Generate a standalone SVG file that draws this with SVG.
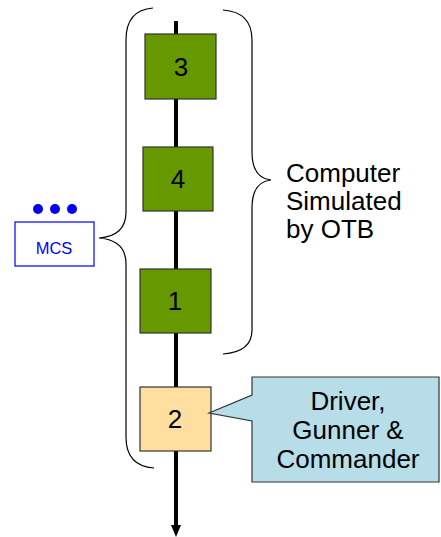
<svg xmlns="http://www.w3.org/2000/svg" width="441" height="537" viewBox="0 0 441 537">
<style>
.box{stroke:#333;stroke-width:1.2}
.g{fill:#669900}
.num{font-family:"Liberation Sans",Arial,sans-serif;font-size:26px;fill:#000;text-anchor:middle}
.lbl{font-family:"Liberation Sans",Arial,sans-serif;font-size:26px;fill:#000}
.brace{fill:none;stroke:#000;stroke-width:1.2}
</style>
<defs>
<marker id="ah" markerWidth="12" markerHeight="10" refX="0" refY="5" orient="auto" markerUnits="userSpaceOnUse">
<path d="M0,0 L12,5 L0,10 Z" fill="#000"/>
</marker>
</defs>
<g id="connectors">
<line x1="176" y1="21" x2="176" y2="525" stroke="#000" stroke-width="4" marker-end="url(#ah)"/>
</g>
<g id="brace-left">
<path class="brace" d="M153,8 Q126,10 126,40 L126,212 Q126,236 99,238 Q126,240 126,264 L126,437 Q126,466 154,468"/>
</g>
<g id="brace-right">
<path class="brace" d="M223,10 Q252,12 252,40 L252,152 Q252,178 271,180 Q252,182 252,208 L252,330 Q252,352 223,354"/>
</g>
<g id="node3">
<rect class="box g" x="145" y="34" width="71" height="65"/>
<text class="num" x="181" y="76">3</text>
</g>
<g id="node4">
<rect class="box g" x="143" y="147" width="70" height="64"/>
<text class="num" x="178" y="188">4</text>
</g>
<g id="node1">
<rect class="box g" x="140" y="269" width="71" height="64"/>
<text class="num" x="175" y="310">1</text>
</g>
<g id="node2">
<rect class="box" x="140" y="387" width="71" height="64" fill="#FFDF9F"/>
<text class="num" x="175" y="428">2</text>
</g>
<g id="mcs">
<circle cx="38" cy="209" r="5" fill="#0000FF"/>
<circle cx="55" cy="209" r="5" fill="#0000FF"/>
<circle cx="72" cy="209" r="5" fill="#0000FF"/>
<rect x="15" y="222" width="79" height="44" fill="#fff" stroke="#0000FF" stroke-width="1.2"/>
<text x="54" y="254" font-family="Liberation Sans,Arial,sans-serif" font-size="16.5" fill="#0000FF" text-anchor="middle">MCS</text>
</g>
<g id="otb-label">
<text class="lbl"><tspan x="286" y="182">Computer</tspan><tspan x="286" y="210">Simulated</tspan><tspan x="286" y="238">by OTB</tspan></text>
</g>
<g id="callout">
<path d="M252,377 L439,377 L439,482 L252,482 L252,421 L209,413 L252,395 Z" fill="#B7DEE8" stroke="#333" stroke-width="1.2"/>
<text class="lbl" text-anchor="middle"><tspan x="348" y="410">Driver,</tspan><tspan x="348" y="439">Gunner &amp;</tspan><tspan x="348" y="468">Commander</tspan></text>
</g>
</svg>
